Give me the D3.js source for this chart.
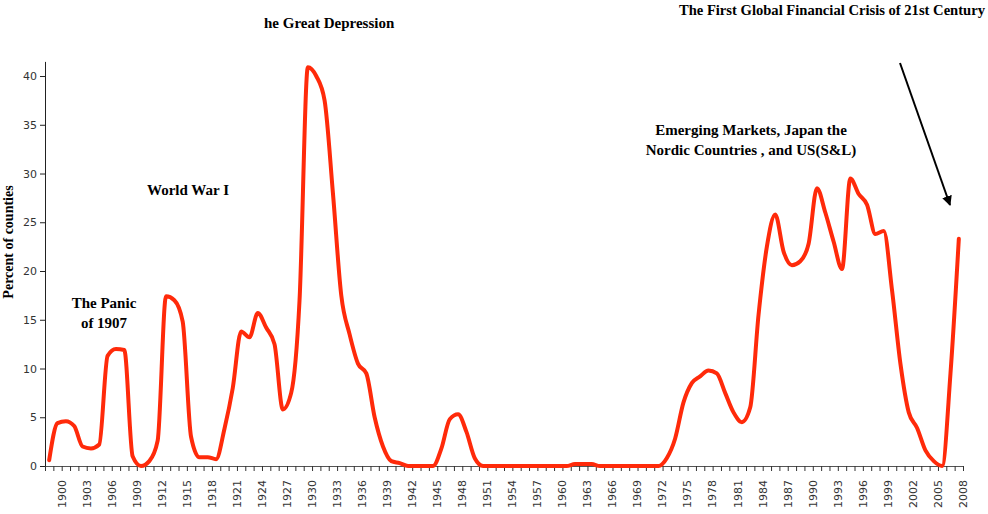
<!DOCTYPE html>
<html>
<head>
<meta charset="utf-8">
<script src="https://cdn.jsdelivr.net/npm/d3@7"></script>
<style>
  body { margin: 0; background: #fff; }
  svg { display: block; }
</style>
</head>
<body>
<script>
let width = 988
let height = 514

// one value per year, 1899-2008
let years = d3.range(1899, 2009)
let percent = [
  0.6, 4.4, 4.6, 4.1, 2.0, 1.8, 2.2, 11.3, 12.0, 11.9,
  1.0, 0.0, 0.5, 2.6, 17.4, 17.0, 14.8, 3.0, 0.9, 0.9,
  0.7, 3.8, 8.0, 13.8, 13.2, 15.7, 14.2, 12.5, 5.8, 7.5,
  17.0, 40.9, 40.0, 37.5, 28.0, 17.5, 13.5, 10.5, 9.5, 5.0,
  2.0, 0.5, 0.3, 0, 0, 0, 0, 1.8, 4.8, 5.3,
  3.5, 0.8, 0, 0, 0, 0, 0, 0, 0, 0,
  0, 0, 0, 0.2, 0.2, 0.2, 0, 0, 0, 0,
  0, 0, 0, 0, 0.8, 2.8, 6.5, 8.5, 9.2, 9.8,
  9.5, 7.5, 5.5, 4.5, 6.0, 15.5, 22.5, 25.8, 22.0, 20.6,
  21.0, 22.8, 28.5, 26.0, 23.0, 20.2, 29.5, 27.9, 26.8, 23.8,
  24.1, 18.0, 10.5, 5.5, 3.9, 1.6, 0.5, 0.0, 9.5, 23.3
]

let axisYears = d3.range(1898, 2009)
let labelYears = d3.range(1900, 2009, 3)
let yTicks = [0, 5, 10, 15, 20, 25, 30, 35, 40]

let yTitle = 'Percent of counties'
let titleDepression = 'he Great Depression'
let titleCrisis = 'The First Global Financial Crisis of 21st Century'
let noteWar = 'World War I'
let notePanic = ['The Panic', 'of 1907']
let noteEmerging = ['Emerging Markets, Japan the', 'Nordic Countries , and US(S&L)']

let data = years.map((yr, i) => ({ year: yr, value: percent[i] }))

let svg = d3.select('body').append('svg')
  .attr('width', width)
  .attr('height', height)

let x = d3.scaleLinear().domain([1898, 2008]).range([45, 963])
let y = d3.scaleLinear().domain([0, 41.5]).range([466, 61.4])
// points sit half a year left of the tick marks
let half = (x(1899) - x(1898)) / 2

let serif = '"Liberation Serif", "Times New Roman", serif'
let sans = '"DejaVu Sans", Verdana, sans-serif'

// y axis
let yAxis = svg.append('g')
  .attr('transform', 'translate(' + x(1898) + ',0)')
  .call(d3.axisLeft(y).tickValues(yTicks).tickSize(5).tickPadding(3).tickSizeOuter(0))
yAxis.select('.domain').attr('stroke', '#222')
yAxis.selectAll('.tick line').attr('stroke', '#222')
yAxis.selectAll('.tick text')
  .style('font-family', sans)
  .style('font-size', '11px')
  .attr('fill', '#333')

// x axis, a tick every year, a label every third
let xAxis = svg.append('g')
  .attr('transform', 'translate(0,' + y(0) + ')')
  .call(d3.axisBottom(x).tickValues(axisYears).tickSize(5).tickSizeOuter(0).tickFormat(''))
xAxis.select('.domain').attr('stroke', '#555')
xAxis.selectAll('.tick line').attr('stroke', '#333')

svg.append('g')
  .selectAll('text')
  .data(labelYears)
  .join('text')
  .attr('transform', d => 'translate(' + x(d) + ',480) rotate(-90)')
  .attr('text-anchor', 'end')
  .attr('dy', '0.35em')
  .style('font-family', sans)
  .style('font-size', '11px')
  .attr('fill', '#333')
  .text(d => d)

// series
let line = d3.line()
  .x(d => x(d.year) - half)
  .y(d => y(d.value))
  .curve(d3.curveMonotoneX)

svg.append('path')
  .datum(data)
  .attr('d', line)
  .attr('fill', 'none')
  .attr('stroke', '#ff2a0a')
  .attr('stroke-width', 4)
  .attr('stroke-linejoin', 'round')
  .attr('stroke-linecap', 'round')

// y title
svg.append('text')
  .attr('transform', 'translate(13,242) rotate(-90)')
  .attr('text-anchor', 'middle')
  .style('font-family', serif)
  .style('font-size', '14px')
  .style('font-weight', 'bold')
  .text(yTitle)

// annotations
function note(lines, cx, top, anchor, size) {
  let t = svg.append('text')
    .attr('text-anchor', anchor)
    .style('font-family', serif)
    .style('font-size', (size || 15) + 'px')
    .style('font-weight', 'bold')
  lines.forEach((s, i) => {
    t.append('tspan').attr('x', cx).attr('y', top + i * 19.5).text(s)
  })
}

note([titleDepression], 264, 28, 'start')
note([titleCrisis], 985, 15, 'end', 14.6)
note([noteWar], 188, 195, 'middle')
note(notePanic, 104, 308, 'middle')
note(noteEmerging, 751, 135, 'middle')

// arrow to 2008
svg.append('defs').append('marker')
  .attr('id', 'head')
  .attr('viewBox', '0 0 10 10')
  .attr('refX', 9)
  .attr('refY', 5)
  .attr('markerWidth', 5)
  .attr('markerHeight', 5)
  .attr('orient', 'auto')
  .append('path')
  .attr('d', 'M0,0L10,5L0,10Z')
  .attr('fill', '#000')

svg.append('line')
  .attr('x1', 900)
  .attr('y1', 63)
  .attr('x2', 950)
  .attr('y2', 205)
  .attr('stroke', '#000')
  .attr('stroke-width', 2)
  .attr('marker-end', 'url(#head)')
</script>
</body>
</html>
